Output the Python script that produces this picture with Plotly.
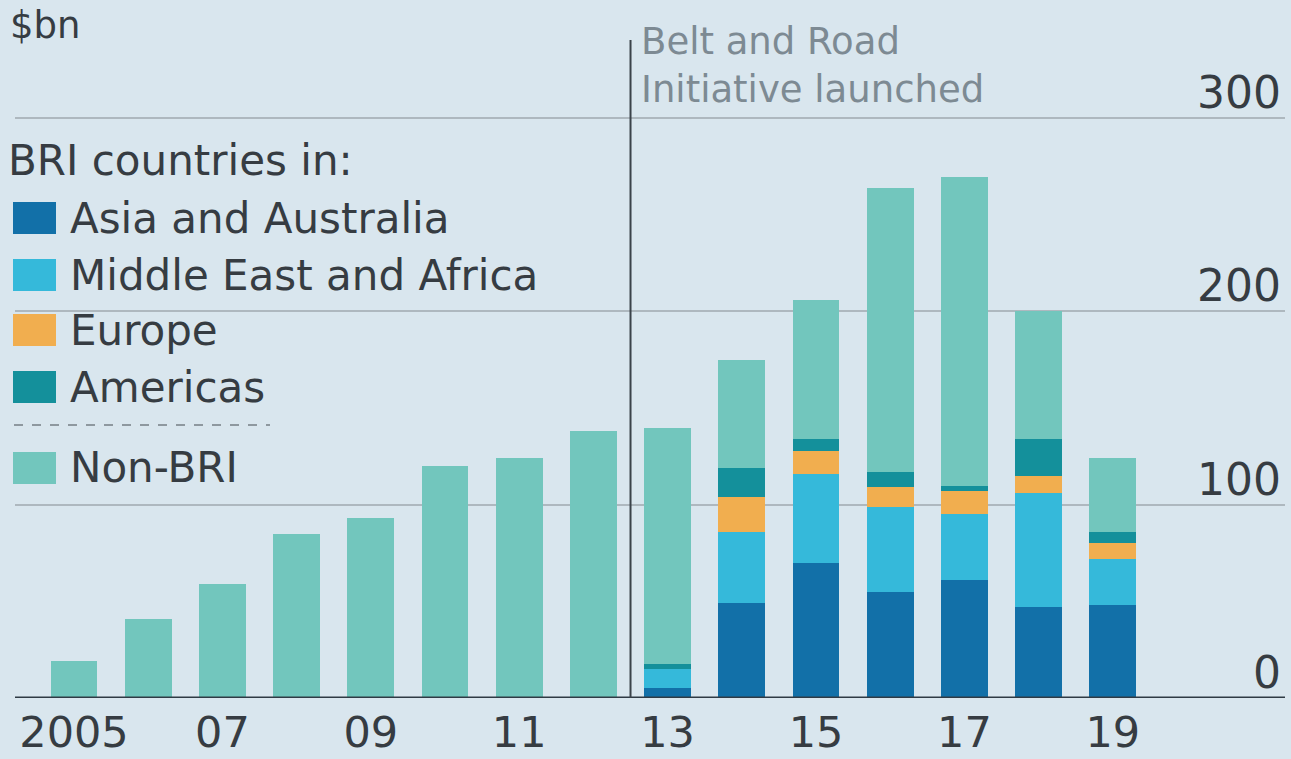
import plotly.graph_objects as go

years = list(range(2005, 2020))
asia = [0, 0, 0, 0, 0, 0, 0, 0, 5, 49, 70, 55, 61, 47, 48]
mea = [0, 0, 0, 0, 0, 0, 0, 0, 10, 37, 46, 44, 34, 59, 24]
europe = [0, 0, 0, 0, 0, 0, 0, 0, 0, 18, 12, 10, 12, 9, 8]
americas = [0, 0, 0, 0, 0, 0, 0, 0, 2.5, 15, 6, 8, 2.5, 19, 6]
non_bri = [19, 41, 59, 85, 93, 120, 124, 138, 122, 56, 72, 147, 160, 66, 38]

series = [
    ("Asia and Australia", asia, "#1270a8"),
    ("Middle East and Africa", mea, "#35b9da"),
    ("Europe", europe, "#f1ae4f"),
    ("Americas", americas, "#14909b"),
    ("Non-BRI", non_bri, "#72c6bd"),
]

tick_years = [2005, 2007, 2009, 2011, 2013, 2015, 2017, 2019]
tick_text = ["2005", "07", "09", "11", "13", "15", "17", "19"]
y_ticks = [0, 100, 200, 300]

W, H = 1291, 759
L, R, T, B = 15, 6, 40, 61
BG = "#d9e6ee"
FONT = "DejaVu Sans"
TXT = "#363c42"
FS = 42
TFS = 44

def px_x(px):
    return (px - L) / (W - L - R)

def px_y(py):
    return (H - B - py) / (H - T - B)

fig = go.Figure()
for name, vals, col in series:
    fig.add_trace(go.Bar(x=years, y=vals, name=name, marker=dict(color=col, line=dict(width=0)),
                         width=0.63, showlegend=False))

fig.update_layout(
    width=W, height=H, barmode="stack",
    paper_bgcolor=BG, plot_bgcolor=BG,
    margin=dict(l=L, r=R, t=T, b=B, autoexpand=False),
    font=dict(family=FONT, color=TXT, size=FS),
    xaxis=dict(range=[2004.205, 2021.32], tickvals=tick_years, ticktext=tick_text,
               showgrid=False, zeroline=False, showline=False, ticks="",
               ticklabelstandoff=5, automargin=False,
               tickfont=dict(size=43, color=TXT)),
    yaxis=dict(range=[0, 340.4], tickvals=y_ticks, side="right", showticklabels=False,
               automargin=False, showgrid=True, gridcolor="#aeb8bf",
               gridwidth=2, zeroline=False, showline=False, ticks=""),
)

# y tick labels sitting just above each gridline, right-aligned
for v in y_ticks:
    fig.add_annotation(x=1, y=v, xref="paper", yref="y", xanchor="right", yanchor="bottom",
                       xshift=-2, yshift=-2, showarrow=False, text=str(v),
                       font=dict(size=TFS, color=TXT))

# baseline
fig.add_shape(type="line", xref="paper", yref="y", x0=0, x1=1, y0=0, y1=0,
              line=dict(color="#2f3a44", width=3))
# launch marker line
fig.add_shape(type="line", xref="x", yref="paper", x0=2012.5, x1=2012.5, y0=0, y1=1,
              line=dict(color="#3b434a", width=2))
fig.add_annotation(x=2012.5, y=px_y(18), xref="x", yref="paper", xanchor="left", yanchor="top",
                   xshift=8, align="left", showarrow=False,
                   text="Belt and Road<br>Initiative launched",
                   font=dict(size=37, color="#7d8a93"))

# unit label
fig.add_annotation(x=px_x(8), y=px_y(25), xref="paper", yref="paper", xanchor="left",
                   yanchor="middle", showarrow=False, text="$bn", font=dict(size=37, color=TXT))

# custom legend
fig.add_annotation(x=px_x(6), y=px_y(160), xref="paper", yref="paper", xanchor="left",
                   yanchor="middle", showarrow=False, text="BRI countries in:",
                   font=dict(size=FS, color=TXT))
legend_rows = [218, 275, 330, 387, 468]
for (name, vals, col), cy in zip(series, legend_rows):
    fig.add_shape(type="rect", xref="paper", yref="paper",
                  x0=px_x(13), x1=px_x(56), y0=px_y(cy + 16), y1=px_y(cy - 16),
                  fillcolor=col, line=dict(width=0))
    fig.add_annotation(x=px_x(68), y=px_y(cy), xref="paper", yref="paper", xanchor="left",
                       yanchor="middle", showarrow=False, text=name,
                       font=dict(size=FS, color=TXT))
fig.add_shape(type="line", xref="paper", yref="paper", x0=px_x(14), x1=px_x(270),
              y0=px_y(425), y1=px_y(425), line=dict(color="#8e989f", width=2, dash="dash"))

fig.write_html("out.html", config={"displayModeBar": False},
               post_script="document.body.style.margin='0';document.body.style.overflow='hidden';")
